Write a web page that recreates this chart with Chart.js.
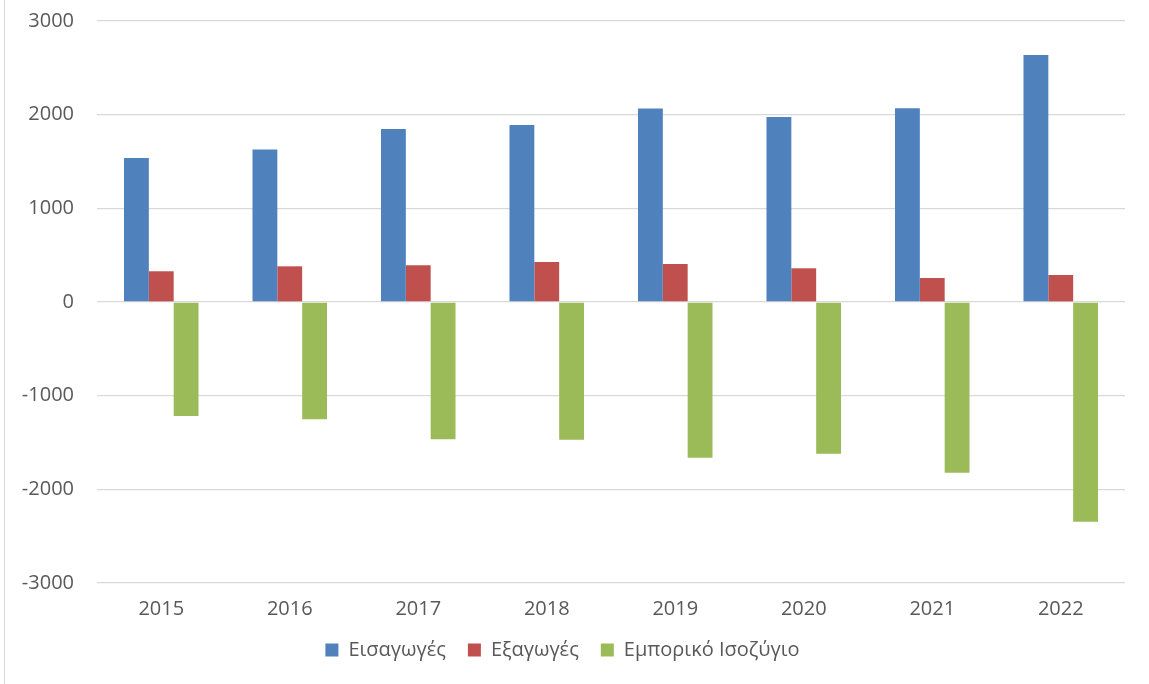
<!DOCTYPE html>
<html>
<head>
<meta charset="utf-8">
<script src="https://cdn.jsdelivr.net/npm/chart.js@4/dist/chart.umd.min.js"></script>
<style>
  body { margin: 0; background: #fff; }
  #wrap { position: relative; width: 1149px; height: 684px; }
  #frame { position: absolute; left: 4px; top: 0; width: 1px; height: 684px; background: #d9d9d9; }
</style>
</head>
<body>
<div id="wrap">
  <div id="frame"></div>
  <canvas id="tradeChart" width="1149" height="684"></canvas>
</div>
<script>
// years on the x axis
var years = ['2015', '2016', '2017', '2018', '2019', '2020', '2021', '2022'];

// values
var imports = [1538, 1627, 1848, 1891, 2065, 1976, 2069, 2636];
var exports = [328, 381, 392, 427, 406, 360, 256, 288];
var balance = [-1218, -1253, -1464, -1471, -1663, -1620, -1823, -2347];

var seriesNames = ['Εισαγωγές', 'Εξαγωγές', 'Εμπορικό Ισοζύγιο'];
var seriesColors = ['#4f81bd', '#c0504d', '#9bbb59'];

var textColor = '#595959';
var fontFamily = '"Open Sans", "Noto Sans", sans-serif';

var ctx = document.getElementById('tradeChart').getContext('2d');

var tradeChart = new Chart(ctx, {
    type: 'bar',
    data: {
        labels: years,
        datasets: [imports, exports, balance].map(function (values, i) {
            return {
                label: seriesNames[i],
                data: values,
                backgroundColor: seriesColors[i],
                borderWidth: 0,
                barPercentage: 1,
                categoryPercentage: 0.58
            };
        })
    },
    options: {
        responsive: false,
        animation: false,
        layout: {
            padding: { left: 0, right: 24, top: 21, bottom: 14 }
        },
        plugins: {
            tooltip: { enabled: false },
            legend: {
                position: 'bottom',
                labels: {
                    color: textColor,
                    font: { family: fontFamily, size: 20 },
                    boxWidth: 13,
                    boxHeight: 13,
                    padding: 22
                }
            }
        },
        scales: {
            x: {
                grid: { display: false },
                border: { display: false },
                ticks: {
                    color: textColor,
                    font: { family: fontFamily, size: 20 },
                    padding: 6
                },
                afterFit: function (scale) { scale.height = 35; }
            },
            y: {
                min: -3000,
                max: 3000,
                border: { display: false },
                grid: {
                    color: '#d9d9d9',
                    lineWidth: 1.3,
                    drawTicks: false
                },
                ticks: {
                    stepSize: 1000,
                    color: textColor,
                    font: { family: fontFamily, size: 20 },
                    padding: 23,
                    callback: function (value) { return String(value); }
                },
                afterFit: function (scale) {
                    scale.width = 97;
                    scale.paddingTop = 0;
                    scale.paddingBottom = 0;
                }
            }
        }
    }
});
</script>
</body>
</html>
